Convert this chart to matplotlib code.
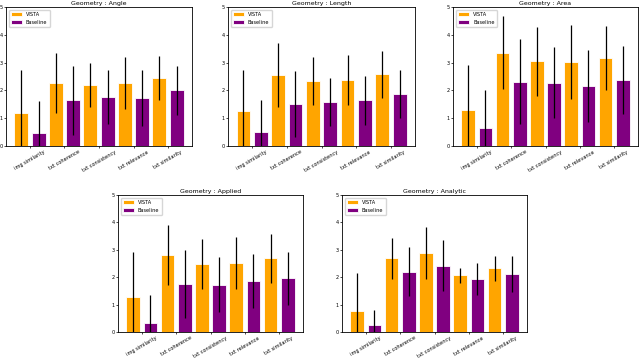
import numpy as np
import matplotlib
matplotlib.use("Agg")
import matplotlib.pyplot as plt

metrics = ['img similarity', 'txt coherence', 'txt consistency', 'txt relevance', 'txt similarity']
titles = ['Geometry : Angle', 'Geometry : Length', 'Geometry : Area',
          'Geometry : Applied', 'Geometry : Analytic']

vista_mean = [
    [1.20, 2.27, 2.19, 2.27, 2.46],
    [1.27, 2.55, 2.33, 2.39, 2.58],
    [1.28, 3.35, 3.04, 3.02, 3.16],
    [1.28, 2.80, 2.48, 2.52, 2.69],
    [0.78, 2.69, 2.88, 2.07, 2.33],
]
vista_std = [
    [1.53, 1.09, 0.80, 0.93, 0.79],
    [1.45, 1.15, 0.87, 0.90, 0.85],
    [1.65, 1.31, 1.23, 1.32, 1.16],
    [1.65, 1.10, 0.92, 0.94, 0.89],
    [1.39, 0.74, 0.96, 0.27, 0.46],
]
base_mean = [
    [0.48, 1.64, 1.76, 1.74, 2.00],
    [0.51, 1.50, 1.59, 1.64, 1.86],
    [0.63, 2.32, 2.27, 2.15, 2.36],
    [0.34, 1.75, 1.73, 1.86, 1.96],
    [0.24, 2.20, 2.41, 1.93, 2.12],
]
base_std = [
    [1.14, 1.24, 0.96, 1.01, 0.89],
    [1.13, 1.19, 0.87, 0.87, 0.86],
    [1.37, 1.52, 1.28, 1.29, 1.22],
    [1.02, 1.25, 1.00, 1.00, 0.97],
    [0.58, 0.89, 0.93, 0.59, 0.67],
]

W, H = 640, 359
fig = plt.figure(figsize=(W / 100, H / 100), dpi=100)

# axes boxes in pixels: left, top, right, bottom
boxes = [(6, 7, 192, 146), (228, 7, 415, 146), (453, 7, 638, 146),
         (118, 195, 303, 332), (342, 195, 527, 332)]

x = np.arange(len(metrics))
for i, (l, t, r, b) in enumerate(boxes):
    ax = fig.add_axes([l / W, 1 - b / H, (r - l) / W, (b - t) / H])
    ax.bar(x - 0.25, vista_mean[i], 0.4, yerr=vista_std[i], color='orange',
           edgecolor='white', linewidth=0.6, label='VISTA',
           error_kw=dict(ecolor='black', elinewidth=0.9, capsize=0))
    ax.bar(x + 0.25, base_mean[i], 0.4, yerr=base_std[i], color='purple',
           edgecolor='white', linewidth=0.6, label='Baseline',
           error_kw=dict(ecolor='black', elinewidth=0.9, capsize=0))
    ax.set_ylim(0, 5)
    ax.set_yticks(range(6))
    ax.set_xticks(x)
    ax.set_xticklabels(metrics, rotation=30, fontsize=3.6)
    ax.tick_params(axis='y', labelsize=3.6, length=1.5, width=0.5, pad=1)
    ax.tick_params(axis='x', length=1.5, width=0.5, pad=1)
    for s in ax.spines.values():
        s.set_linewidth(0.6)
    ax.set_title(titles[i], fontsize=4.5, pad=1.5)
    ax.legend(loc='upper left', fontsize=3.6, handlelength=2.2, handleheight=0.8,
              borderpad=0.5, labelspacing=0.5, framealpha=0.8)

fig.savefig('out.png', dpi=100)
